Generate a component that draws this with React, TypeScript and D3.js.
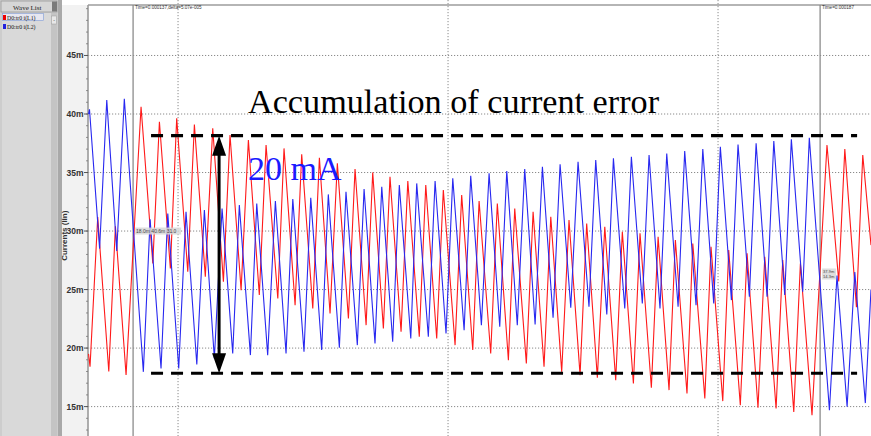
import React from "react";
import * as d3 from "d3";

const W = 871;
const H = 436;

// axis / grid
const yTicks = [15, 20, 25, 30, 35, 40, 45];
const yMinor = d3.range(13, 50, 1);
const xGrid = [140, 160, 180];
const cursorTimes = [136.67, 187.56];
const cursorLabels = ["Time=0.000137,delta=5.07e-005", "Time=0.000187"];
const bandValues = [38.15, 17.85];
const bandRange = [138.0, 190.3];
const arrowTime = 143.04;
const titleText = "Accumulation of current error";
const bandText = "20 mA";
const yLabel = "Currents (lin)";
const traceNames = ["D0:tr0 i(L1)", "D0:tr0 i(L2)"];

// i(L1) red trace vertices (time in µs, current in mA)
const redT = [
  133.37, 133.48, 134.05, 134.87, 135.36, 136.15,
  137.26, 138.13, 138.62, 139.43, 139.9, 140.72, 141.21, 142.02, 142.57, 143.36,
  143.85, 144.67, 145.21, 146.02, 146.52, 147.39, 147.85, 148.67, 149.16, 149.98,
  150.47, 151.26, 151.8, 152.62, 153.11, 153.93, 154.42, 155.21, 155.7, 156.52,
  157.02, 157.87, 158.35, 159.16, 159.65, 160.52, 161.01, 161.83, 162.3, 163.16,
  163.65, 164.47, 164.94, 165.8, 166.3, 167.11, 167.61, 168.42, 168.96, 169.78,
  170.27, 171.06, 171.61, 172.42, 172.91, 173.73, 174.22, 175.06, 175.56, 176.37,
  176.84, 177.7, 178.13, 179.02, 179.48, 180.35, 180.79, 181.65, 182.15, 182.96,
  183.46, 184.3, 184.79, 185.61, 186.1, 186.96,
  188.07, 188.94, 189.39, 190.25, 190.72, 191.33,
];
const redV = [
  19.5, 18.4, 31.2, 18.0, 30.4, 17.7,
  40.62, 27.23, 39.34, 26.81, 39.63, 26.52, 39.11, 26.1, 38.77, 25.67,
  38.2, 24.95, 37.77, 24.53, 37.35, 24.24, 37.06, 23.67, 36.55, 23.39,
  36.26, 22.96, 35.78, 22.53, 35.3, 21.96, 35.01, 21.68, 34.64, 21.39,
  34.27, 20.97, 33.93, 20.82, 33.5, 20.25, 33.07, 19.83, 32.56, 19.54,
  32.36, 18.97, 31.93, 18.69, 31.65, 18.4, 31.22, 17.97, 30.94, 17.69,
  30.65, 17.46, 30.37, 17.26, 29.94, 16.98, 29.8, 16.61, 29.51, 16.41,
  29.23, 16.12, 28.94, 15.69, 28.66, 15.47, 28.37, 15.12, 28.09, 14.9,
  27.8, 14.84, 27.52, 14.55, 27.23, 14.27,
  37.35, 25.7, 37.0, 23.5, 36.5, 28.8,
];

// i(L2) blue trace vertices
const blueT = [
  133.37, 133.44, 134.19, 134.72, 135.46, 136.02,
  137.43, 137.93, 138.74, 139.24, 140.05, 140.59, 141.39, 141.95, 142.69, 143.26,
  144.05, 144.54, 145.36, 145.83, 146.64, 147.21, 148.0, 148.5, 149.33, 149.83,
  150.64, 151.13, 151.95, 152.44, 153.28, 153.78, 154.59, 155.09, 155.9, 156.39,
  157.24, 157.68, 158.54, 159.04, 159.85, 160.35, 161.19, 161.68, 162.47, 163.04,
  163.83, 164.35, 165.13, 165.68, 166.45, 166.99, 167.78, 168.3, 169.09, 169.63,
  170.44, 170.94, 171.76, 172.25, 173.09, 173.58, 174.39, 174.89, 175.7, 176.2,
  177.04, 177.53, 178.37, 178.87, 179.68, 180.17, 180.99, 181.48, 182.32, 182.82,
  183.63, 184.13, 184.94, 185.43, 186.27, 186.76,
  188.25, 188.81, 189.56, 190.13, 190.91, 191.33,
];
const blueV = [
  40.0, 40.4, 28.5, 41.2, 28.3, 41.3,
  17.97, 31.0, 18.26, 31.5, 18.26, 31.65, 18.6, 31.79, 19.11, 31.93,
  19.54, 32.22, 19.4, 32.36, 19.4, 32.56, 19.54, 32.73, 19.68, 32.85,
  19.83, 33.13, 20.03, 33.36, 20.25, 33.59, 20.4, 33.79, 20.54, 33.93,
  20.82, 34.07, 20.97, 34.27, 21.25, 34.5, 21.53, 34.73, 21.96, 34.93,
  21.82, 35.12, 21.96, 35.3, 22.02, 35.5, 22.59, 35.7, 23.44, 35.92,
  23.53, 36.06, 22.87, 36.21, 23.39, 36.35, 23.81, 36.49, 23.39, 36.63,
  23.53, 36.83, 23.67, 37.0, 23.81, 37.2, 24.1, 37.4, 24.38, 37.49,
  24.38, 37.69, 24.53, 37.83, 24.81, 37.97,
  14.7, 26.2, 15.0, 26.5, 15.3, 25.0,
];

const PLOT_L = 88;
const PLOT_R = 871;
const PLOT_T = 5;
const PLOT_B = 436;

const x = d3.scaleLinear().domain([133.33, 191.33]).range([PLOT_L, PLOT_R]);
const y = d3.scaleLinear().domain([15, 40]).range([406.6, 114]);

const line = d3
  .line<[number, number]>()
  .x((d) => x(d[0]))
  .y((d) => y(d[1]));

const redPts = redT.map((t, i) => [t, redV[i]] as [number, number]);
const bluePts = blueT.map((t, i) => [t, blueV[i]] as [number, number]);

export default function App() {
  const ax = x(arrowTime);
  const yTop = y(bandValues[0]);
  const yBot = y(bandValues[1]);
  return (
    <div style={{ position: "fixed", left: 0, top: 0, width: W, height: H }}>
      <svg width={W} height={H} style={{ display: "block" }}>
        <defs>
          <clipPath id="plotclip">
            <rect x={PLOT_L} y={PLOT_T} width={PLOT_R - PLOT_L} height={PLOT_B - PLOT_T} />
          </clipPath>
        </defs>
        {/* left wave list panel */}
        <rect x={0} y={0} width={58} height={H} fill="#cdcdcd" />
        <rect x={1} y={1} width={56} height={11} fill="#d6d6d6" stroke="#9a9a9a" strokeWidth={0.8} />
        <rect x={52} y={1.5} width={5} height={10} fill="#7a7a7a" />
        <text x={13} y={9.5} fontFamily="Liberation Serif" fontSize={7} fill="#222">Wave List</text>
        <rect x={2} y={13} width={49} height={423} fill="#d9d9d9" />
        <rect x={51} y={13} width={6} height={423} fill="#c4c4c4" />
        <rect x={51.5} y={16} width={5} height={8} fill="#e8e8e8" stroke="#9a9a9a" strokeWidth={0.5} />
        <text x={54} y={21.5} fontFamily="Liberation Sans" fontSize={5} textAnchor="middle" fill="#333">-</text>
        <rect x={2.5} y={13.5} width={41} height={7} fill="#e6e6f0" stroke="#7f9bd8" strokeWidth={0.6} />
        {traceNames.map((n, i) => (
          <g key={n}>
            <rect x={3} y={15 + i * 9} width={3} height={5} fill={i === 0 ? "#e00" : "#22d"} />
            <text x={7} y={19.5 + i * 9} fontFamily="Liberation Serif" fontSize={5.8} fill="#111">{n}</text>
          </g>
        ))}
        {/* separator strip */}
        <rect x={58} y={0} width={4} height={H} fill="#a9a9a9" />
        <rect x={62} y={0} width={PLOT_L - 62} height={H} fill="#f2f2f2" />
        {/* plot background */}
        <rect x={PLOT_L} y={PLOT_T} width={PLOT_R - PLOT_L} height={PLOT_B - PLOT_T} fill="#ffffff" />
        <rect x={62} y={0} width={W - 62} height={PLOT_T} fill="#ffffff" />
        <line x1={PLOT_L} x2={PLOT_R} y1={PLOT_T} y2={PLOT_T} stroke="#9c9c9c" strokeWidth={1.5} />
        {/* grid */}
        {yTicks.map((v) => (
          <line key={v} x1={PLOT_L} x2={PLOT_R} y1={y(v)} y2={y(v)} stroke="#8a8a8a" strokeWidth={1} strokeDasharray="1.2 1.8" />
        ))}
        {xGrid.map((t) => (
          <line key={t} x1={x(t)} x2={x(t)} y1={0} y2={PLOT_B} stroke="#8a8a8a" strokeWidth={1} strokeDasharray="1.2 1.8" />
        ))}
        {/* cursors */}
        {cursorTimes.map((t) => (
          <line key={t} x1={x(t)} x2={x(t)} y1={PLOT_T} y2={PLOT_B} stroke="#8c8c8c" strokeWidth={1.3} />
        ))}
        {cursorTimes.map((t, i) => (
          <text key={"c" + i} x={x(t) + 2} y={9} fontFamily="Liberation Sans" fontSize={4.6} fill="#333">{cursorLabels[i]}</text>
        ))}
        {/* y axis */}
        <line x1={PLOT_L} x2={PLOT_L} y1={PLOT_T} y2={PLOT_B} stroke="#9a9a9a" strokeWidth={1.6} />
        {yMinor.map((v) => (
          <line key={v} x1={PLOT_L - 2} x2={PLOT_L} y1={y(v)} y2={y(v)} stroke="#777" strokeWidth={0.8} />
        ))}
        {yTicks.map((v) => (
          <g key={"t" + v}>
            <line x1={PLOT_L - 4} x2={PLOT_L} y1={y(v)} y2={y(v)} stroke="#555" strokeWidth={1} />
            <text x={PLOT_L - 4.5} y={y(v) + 3} textAnchor="end" fontFamily="Liberation Sans" fontSize={8.5} fontWeight="bold" fill="#333">{v}m</text>
          </g>
        ))}
        <text transform={`translate(67,${y(29.6)}) rotate(-90)`} textAnchor="middle" fontFamily="Liberation Sans" fontSize={8} fontWeight="bold" fill="#333">{yLabel}</text>
        {/* traces */}
        <g clipPath="url(#plotclip)">
          <path d={line(redPts) || ""} fill="none" stroke="#ff1a1a" strokeWidth={1.1} strokeLinejoin="miter" />
          <path d={line(bluePts) || ""} fill="none" stroke="#2828f0" strokeWidth={1.1} strokeLinejoin="miter" />
        </g>
        {/* readout boxes */}
        <rect x={x(cursorTimes[0]) + 2} y={y(30.3)} width={46} height={7} fill="#d8d8d8" opacity={0.85} />
        <text x={x(cursorTimes[0]) + 3} y={y(30.3) + 5.5} fontFamily="Liberation Sans" fontSize={5} fill="#444">18.0m 40.6m 31.0</text>
        <rect x={x(cursorTimes[1]) + 2} y={y(26.8)} width={14} height={11} fill="#d8d8d8" opacity={0.85} />
        <text x={x(cursorTimes[1]) + 3} y={y(26.8) + 5} fontFamily="Liberation Sans" fontSize={4} fill="#444">37.9m</text>
        <text x={x(cursorTimes[1]) + 3} y={y(26.8) + 9.5} fontFamily="Liberation Sans" fontSize={4} fill="#444">14.3m</text>
        {/* dashed band */}
        {bandValues.map((v) => (
          <line key={v} x1={x(bandRange[0])} x2={x(bandRange[1])} y1={y(v)} y2={y(v)} stroke="#000" strokeWidth={3.2} strokeDasharray="12 8" />
        ))}
        {/* double arrow */}
        <line x1={ax} x2={ax} y1={yTop + 18} y2={yBot - 18} stroke="#000" strokeWidth={3} />
        <path d={`M${ax},${yTop} L${ax - 7},${yTop + 20} L${ax + 7},${yTop + 20} Z`} fill="#000" />
        <path d={`M${ax},${yBot} L${ax - 7},${yBot - 20} L${ax + 7},${yBot - 20} Z`} fill="#000" />
        {/* annotations */}
        <text x={248} y={113} fontFamily="Liberation Serif" fontSize={34.2} fill="#000">{titleText}</text>
        <text x={248} y={180} fontFamily="Liberation Serif" fontSize={34} fill="#1a1aff">{bandText}</text>
      </svg>
    </div>
  );
}
